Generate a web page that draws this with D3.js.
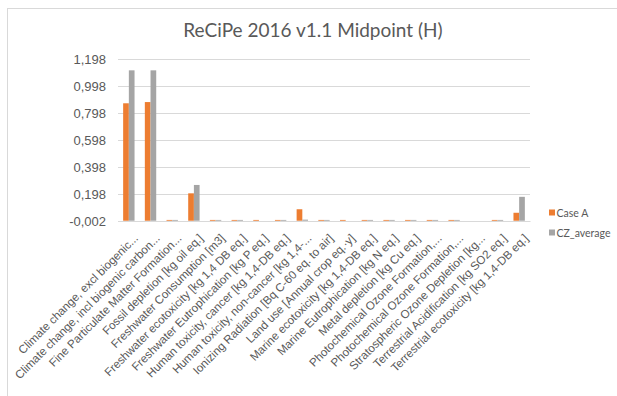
<!DOCTYPE html>
<html>
<head>
<meta charset="utf-8">
<script src="https://cdn.jsdelivr.net/npm/d3@7/dist/d3.min.js"></script>
<style>
  html, body { margin: 0; padding: 0; background: #fff; }
  svg { display: block; font-family: Lato, "Open Sans", sans-serif; }
</style>
</head>
<body>
<svg id="chart" width="617" height="396"></svg>
<script>
// Impact categories (ReCiPe 2016 v1.1 midpoint, hierarchist)
const categories = [
  "Climate change, excl biogenic...",
  "Climate change, incl biogenic carbon...",
  "Fine Particulate Matter Formation...",
  "Fossil depletion [kg oil eq.]",
  "Freshwater Consumption [m3]",
  "Freshwater ecotoxicity [kg 1,4 DB eq.]",
  "Freshwater Eutrophication [kg P eq.]",
  "Human toxicity, cancer [kg 1,4-DB eq.]",
  "Human toxicity, non-cancer [kg 1,4-...",
  "Ionizing Radiation [Bq C-60 eq. to air]",
  "Land use [Annual crop eq.·y]",
  "Marine ecotoxicity [kg 1,4-DB eq.]",
  "Marine Eutrophication [kg N eq.]",
  "Metal depletion [kg Cu eq.]",
  "Photochemical Ozone Formation,...",
  "Photochemical Ozone Formation,...",
  "Stratospheric Ozone Depletion [kg...",
  "Terrestrial Acidification [kg SO2 eq.]",
  "Terrestrial ecotoxicity [kg 1,4-DB eq.]"
];

const seriesNames = ["Case A", "CZ_average"];

const caseA = [0.870, 0.879, 0.006, 0.203, 0.006, 0.006, 0.006, 0.006, 0.085, 0.006,
               0.006, 0.006, 0.006, 0.006, 0.006, 0.006, 0.000, 0.006, 0.059];
const czAverage = [1.114, 1.114, 0.006, 0.265, 0.006, 0.006, 0.000, 0.006, 0.008, 0.006,
                   0.000, 0.006, 0.006, 0.006, 0.006, 0.006, 0.000, 0.006, 0.177];

const yTicks = [-0.002, 0.198, 0.398, 0.598, 0.798, 0.998, 1.198];

const colors = ["#ED7D31", "#A5A5A5"];

const svg = d3.select("#chart");
const W = 617, H = 396;

// chart frame
svg.append("rect")
  .attr("x", 7.5).attr("y", 8.5)
  .attr("width", W).attr("height", H)
  .attr("fill", "#fff").attr("stroke", "#D9D9D9").attr("stroke-width", 1);

const plot = { left: 118, right: 530, top: 59, bottom: 221 };

const x = d3.scaleBand()
  .domain(d3.range(categories.length))
  .range([plot.left, plot.right])
  .paddingInner(0.475)
  .paddingOuter(0.2375);

const xs = d3.scaleBand()
  .domain(seriesNames)
  .range([0, x.bandwidth()]);

const y = d3.scaleLinear()
  .domain([yTicks[0], yTicks[yTicks.length - 1]])
  .range([plot.bottom, plot.top]);

const locale = d3.formatLocale({ decimal: ",", thousands: ".", grouping: [3], currency: ["", ""], minus: "-" });
const fmt = locale.format(".3f");

// gridlines + y labels
const yAxis = d3.axisLeft(y)
  .tickValues(yTicks)
  .tickSize(-(plot.right - plot.left))
  .tickPadding(12)
  .tickFormat(fmt);

const gy = svg.append("g")
  .attr("transform", `translate(${plot.left},0)`)
  .call(yAxis);
gy.select(".domain").remove();
gy.selectAll(".tick line").attr("stroke", "#D9D9D9").attr("stroke-width", 1);
gy.selectAll(".tick text")
  .attr("fill", "#595959")
  .style("font-size", "13px");

// bars
const series = [caseA, czAverage];
series.forEach((vals, si) => {
  svg.append("g")
    .selectAll("rect")
    .data(vals)
    .join("rect")
    .attr("x", (d, i) => x(i) + xs(seriesNames[si]))
    .attr("width", xs.bandwidth())
    .attr("y", d => y(Math.max(0, d)))
    .attr("height", d => Math.abs(y(0) - y(d)))
    .attr("fill", colors[si]);
});

// category axis
const xAxis = d3.axisBottom(x).tickSize(0).tickFormat(i => categories[i]);
const gx = svg.append("g")
  .attr("transform", `translate(0,${plot.bottom})`)
  .call(xAxis);
gx.select(".domain").attr("stroke", "#D9D9D9");
gx.selectAll(".tick text")
  .attr("fill", "#595959")
  .style("font-size", "11.6px")
  .attr("text-anchor", "end")
  .attr("dy", "0")
  .attr("y", 0)
  .attr("transform", "translate(10,18) rotate(-45)");

// title
svg.append("text")
  .attr("x", 313).attr("y", 37)
  .attr("text-anchor", "middle")
  .attr("fill", "#595959")
  .style("font-size", "19px")
  .text("ReCiPe 2016 v1.1 Midpoint (H)");

// legend
const legend = svg.append("g");
seriesNames.forEach((name, i) => {
  const ly = 213 + i * 20;
  legend.append("rect")
    .attr("x", 549).attr("y", ly - 3.5)
    .attr("width", 6).attr("height", 6)
    .attr("fill", colors[i]);
  legend.append("text")
    .attr("x", 556.5).attr("y", ly)
    .attr("dy", "0.35em")
    .attr("fill", "#595959")
    .style("font-size", "10.5px")
    .text(name);
});
</script>
</body>
</html>
